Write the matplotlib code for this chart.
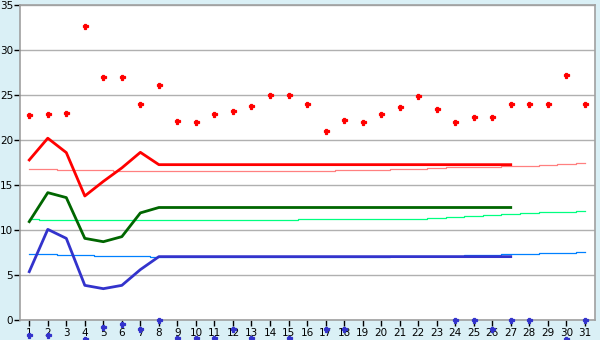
import numpy as np
import matplotlib
matplotlib.use("Agg")
import matplotlib.pyplot as plt

days = list(range(1, 32))
day_labels = [str(d) for d in days]

# red scatter (daily values)
red_points = [22.78, 22.85, 22.96, 32.67, 26.96, 26.96, 23.96, 26.07, 22.1, 22.0,
              22.85, 23.18, 23.74, 24.96, 24.96, 23.96, 20.96, 22.18, 21.96, 22.85,
              23.63, 24.85, 23.41, 22.0, 22.52, 22.52, 23.96, 23.96, 23.96, 27.19, 23.96]

# blue scatter near/below zero (NaN = not visible)
nan = np.nan
blue_points = [-1.67, -1.67, nan, -2.15, -0.78, -0.48, -0.96, 0.0, -2.0, -1.96,
               -2.0, -0.96, -2.0, nan, -2.0, nan, -0.96, -0.96, nan, nan,
               nan, nan, nan, 0.0, 0.0, -0.96, 0.0, 0.0, nan, -2.15, 0.0]

# bold lines, days 1-27
bold_days = list(range(1, 28))
red_bold = [17.78, 20.2, 18.6, 13.78, 15.4, 16.9, 18.63] + [17.26] * 20
green_bold = [10.93, 14.15, 13.6, 9.07, 8.7, 9.26, 11.9] + [12.5] * 20
blue_bold = [5.37, 10.07, 9.07, 3.85, 3.48, 3.85, 5.6] + [7.04] * 20

# thin trend lines, days 1-31
red_thin = [16.78, 16.78, 16.67, 16.67, 16.67] + [16.56] * 12 + [16.67] * 3 + \
           [16.78, 16.78, 16.89, 17.0, 17.0, 17.0, 17.11, 17.11, 17.22, 17.33, 17.44]
green_thin = [11.22] + [11.11] * 14 + [11.22] * 7 + \
             [11.33, 11.44, 11.56, 11.67, 11.78, 11.89, 12.0, 12.0, 12.11]
blue_thin = [7.33, 7.33, 7.22, 7.22, 7.11, 7.11, 7.11] + [7.0] * 13 + \
            [7.11] * 4 + [7.22, 7.22, 7.33, 7.33, 7.44, 7.44, 7.56]

y_ticks = [0, 5, 10, 15, 20, 25, 30, 35]

bg = "#daf0f6"
fig = plt.figure(figsize=(6, 3.4), dpi=100, facecolor=bg)
ax = fig.add_axes([20 / 600, 20 / 340, 575 / 600, 315 / 340])
ax.set_facecolor("white")

ax.set_xlim(0.5, 31.55)
ax.set_ylim(0, 35)

for y in y_ticks:
    ax.axhline(y, color="#b0b0b0", lw=1.0, zorder=1)

ax.plot(days, red_thin, color="#ff8080", lw=0.9, drawstyle="steps-mid", zorder=2)
ax.plot(days, green_thin, color="#00ff80", lw=0.9, drawstyle="steps-mid", zorder=2)
ax.plot(days, blue_thin, color="#0080ff", lw=0.9, drawstyle="steps-mid", zorder=2)

ax.plot(bold_days, red_bold, color="#ff0000", lw=2.0, zorder=3)
ax.plot(bold_days, green_bold, color="#006600", lw=2.0, zorder=3)
ax.plot(bold_days, blue_bold, color="#3333cc", lw=2.0, zorder=3)

ax.plot(days, red_points, ls="none", marker="P", color="#ff0000", ms=3.6,
        mew=0.9, mec="#ff0000", zorder=4)
ax.plot(days, blue_points, ls="none", marker="P", color="#3333cc", ms=3.6,
        mew=0.9, mec="#3333cc", zorder=4, clip_on=False)

ax.set_xticks(days)
ax.set_xticklabels(day_labels)
ax.set_yticks(y_ticks)
ax.set_yticklabels([str(v) for v in y_ticks])
ax.tick_params(axis="both", direction="out", length=4, width=1, color="black",
               labelsize=7.5, labelcolor="black")
ax.tick_params(axis="y", pad=1)
ax.tick_params(axis="x", pad=2)

for s in ax.spines.values():
    s.set_color("#a0a0a0")
    s.set_linewidth(1.2)

fig.savefig("out.png", dpi=100, facecolor=bg)
